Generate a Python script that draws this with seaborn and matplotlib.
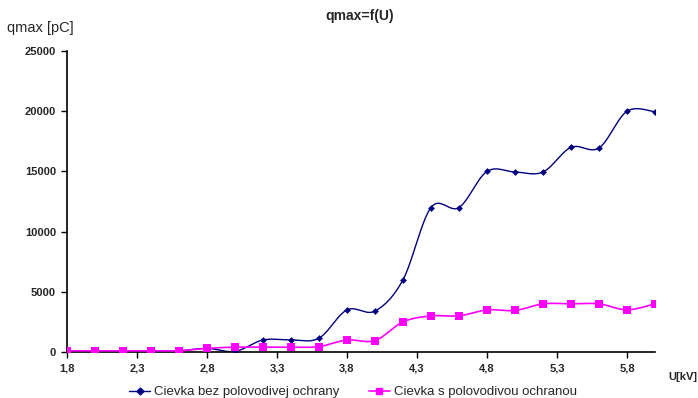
import numpy as np
import pandas as pd
import matplotlib
matplotlib.use("Agg")
import matplotlib.pyplot as plt
from matplotlib.lines import Line2D
import seaborn as sns

# Voltage steps [kV]
u_kv = [1.8, 2.0, 2.2, 2.4, 2.6, 2.8, 3.0, 3.2, 3.4, 3.6, 3.8,
        4.0, 4.2, 4.4, 4.6, 4.8, 5.0, 5.2, 5.4, 5.6, 5.8, 6.0]
# Max apparent charge [pC]
q_bez = [100, 100, 100, 100, 100, 300, 50, 1000, 1000, 1150, 3500,
         3400, 6000, 12000, 12000, 15000, 14950, 14950, 17000, 16950, 20000, 19950]
q_s = [100, 100, 100, 100, 100, 300, 400, 400, 400, 450, 1000,
       950, 2500, 3000, 3000, 3500, 3450, 4000, 4000, 4000, 3500, 4000]

label_bez = "Cievka bez polovodivej ochrany"
label_s = "Cievka s polovodivou ochranou"
x_ticks = [1.8, 2.3, 2.8, 3.3, 3.8, 4.3, 4.8, 5.3, 5.8]
y_ticks = [0, 5000, 10000, 15000, 20000, 25000]

c_bez = "#000080"
c_s = "#FF00FF"


def smooth(x, y, n=24):
    """Catmull-Rom style smoothing (as used by spreadsheet 'smoothed line')."""
    x = np.asarray(x, float)
    y = np.asarray(y, float)
    px = np.concatenate([[x[0]], x, [x[-1]]])
    py = np.concatenate([[y[0]], y, [y[-1]]])
    xs, ys = [], []
    t = np.linspace(0, 1, n, endpoint=False)
    for i in range(1, len(px) - 2):
        p0, p1, p2, p3 = [np.array([px[j], py[j]]) for j in (i - 1, i, i + 1, i + 2)]
        c1 = p1 + (p2 - p0) / 6.0
        c2 = p2 - (p3 - p1) / 6.0
        b = ((1 - t) ** 3)[:, None] * p1 + (3 * (1 - t) ** 2 * t)[:, None] * c1 \
            + (3 * (1 - t) * t ** 2)[:, None] * c2 + (t ** 3)[:, None] * p2
        xs.extend(b[:, 0])
        ys.extend(b[:, 1])
    xs.append(x[-1])
    ys.append(y[-1])
    return np.array(xs), np.array(ys)


sns.set_style("white")
plt.rcParams["font.family"] = ["Liberation Sans", "DejaVu Sans"]

fig = plt.figure(figsize=(6.98, 3.98), dpi=100)
ax = fig.add_axes([67 / 698, 1 - 352 / 398, (655 - 67) / 698, (352 - 51) / 398])

# first series underneath, second series drawn on top of it
sx, sy = smooth(u_kv, q_bez)
sns.lineplot(x=sx, y=sy, ax=ax, color=c_bez, lw=1.0, sort=False,
             estimator=None, legend=False, zorder=2)
sns.scatterplot(x=u_kv, y=q_bez, ax=ax, color=c_bez, marker="D", s=12,
                edgecolor=c_bez, linewidth=0, legend=False, zorder=3)
sx, sy = smooth(u_kv, q_s)
sns.lineplot(x=sx, y=sy, ax=ax, color=c_s, lw=1.2, sort=False,
             estimator=None, legend=False, zorder=4)
sns.scatterplot(x=u_kv, y=q_s, ax=ax, color=c_s, marker="s", s=30,
                edgecolor=c_s, linewidth=0, legend=False, zorder=5)

ax.set_xlim(1.8, 6.0)
ax.set_ylim(0, 25000)
ax.set_xticks(x_ticks)
ax.set_xticklabels([f"{v:.1f}".replace(".", ",") for v in x_ticks],
                   fontsize=8, fontweight="bold")
ax.set_yticks(y_ticks)
ax.set_yticklabels([str(v) for v in y_ticks], fontsize=8, fontweight="bold")
ax.tick_params(axis="both", direction="out", length=4, width=1, color="black",
               pad=4, bottom=True, left=True)
for side in ("top", "right"):
    ax.spines[side].set_visible(False)
for side in ("left", "bottom"):
    ax.spines[side].set_color("black")
    ax.spines[side].set_linewidth(1.2)
ax.set_xlabel("")
ax.set_ylabel("")

fig.text(360 / 698, 1 - 16 / 398, "qmax=f(U)", ha="center", va="center",
         fontsize=10, fontweight="bold")
fig.text(7 / 698, 1 - 28 / 398, "qmax [pC]", ha="left", va="center",
         fontsize=10.5)
fig.text(668 / 698, 1 - 377 / 398, "U[kV]", ha="left", va="center",
         fontsize=8, fontweight="bold")

handles = [
    Line2D([], [], color=c_bez, lw=1.0, marker="D", markersize=3.5),
    Line2D([], [], color=c_s, lw=1.2, marker="s", markersize=5),
]
fig.legend(handles, [label_bez, label_s], loc="center", ncol=2,
           bbox_to_anchor=(353 / 698, 1 - 392 / 398), frameon=False,
           fontsize=9.5, handlelength=1.6, columnspacing=2.2, handletextpad=0.3,
           borderpad=0, borderaxespad=0)

fig.savefig("out.png", dpi=100)
